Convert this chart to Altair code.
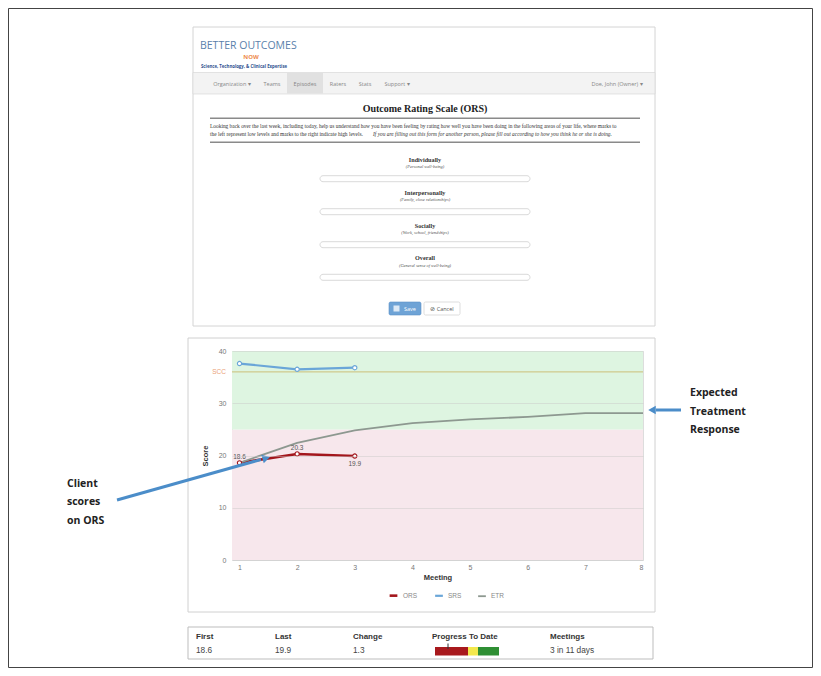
import altair as alt
import pandas as pd

# ---------------- chart values ----------------
meetings = [1, 2, 3, 4, 5, 6, 7, 8]
ors_scores = [18.6, 20.3, 19.9]
srs_scores = [37.6, 36.5, 36.8]
etr_scores = [18.6, 22.4, 24.8, 26.2, 26.9, 27.4, 28.1, 28.1]
scc_value = 36
series_names = ["ORS", "SRS", "ETR"]
series_colors = ["#a3161c", "#6aa6d8", "#8d9890"]
series_widths = [2.6, 1.8, 1.4]
band_names = ["Below", "Above"]
band_low = [0, 25]
band_high = [25, 40]
band_colors = ["#f7e7ec", "#def5e1"]
x_ticks = meetings
y_ticks = [0, 10, 20, 30, 40]
days_span = 11

# ---------------- texts of the figure ----------------
logo_text = "BETTER OUTCOMES"
logo_sub = "NOW"
logo_tag = "Science, Technology, & Clinical Expertise"
nav_items = ["Organization ▾", "Teams", "Episodes", "Raters", "Stats", "Support ▾"]
nav_user = "Doe, John (Owner) ▾"
form_title = "Outcome Rating Scale (ORS)"
form_intro_1 = ("Looking back over the last week, including today, help us understand how you have been feeling "
                "by rating how well you have been doing in the following areas of your life, where marks to")
form_intro_2a = "the left represent low levels and marks to the right indicate high levels."
form_intro_2b = ("If you are filling out this form for another person, please fill out according to how you "
                 "think he or she is doing.")
form_scales = ["Individually", "Interpersonally", "Socially", "Overall"]
form_hints = ["(Personal well-being)", "(Family, close relationships)",
              "(Work, school, friendships)", "(General sense of well-being)"]
button_labels = ["Save", "⊘ Cancel"]
table_headers = ["First", "Last", "Change", "Progress To Date", "Meetings"]
note_left = ["Client", "scores", "on ORS"]
note_right = ["Expected", "Treatment", "Response"]

# ---------------- layout (page pixels) ----------------
OX, OY = 232, 351          # plot origin on the page
W, H = 411, 209            # plot area
SVG_W, SVG_H = 805, 660


def PX(x):
    return x - OX


def PY(y):
    return y - OY


ONE = pd.DataFrame({"k": [0]})


def text(s, x, y, size=7, color="#333", align="left", weight="normal",
         font="Liberation Sans", style="normal", baseline="middle"):
    return alt.Chart(ONE).mark_text(
        text=s, fontSize=size, color=color, align=align, fontWeight=weight,
        font=font, fontStyle=style, baseline=baseline
    ).encode(x=alt.value(PX(x)), y=alt.value(PY(y)))


def box(x1, y1, x2, y2, fill=None, stroke=None, sw=1, r=0):
    kw = {}
    if fill is None:
        kw["fillOpacity"] = 0
        kw["fill"] = "white"
    else:
        kw["fill"] = fill
    if stroke is not None:
        kw["stroke"] = stroke
        kw["strokeWidth"] = sw
    if r:
        kw["cornerRadius"] = r
    return alt.Chart(ONE).mark_rect(**kw).encode(
        x=alt.value(PX(x1)), x2=alt.value(PX(x2)),
        y=alt.value(PY(y1)), y2=alt.value(PY(y2)))


def seg(x1, y1, x2, y2, color, sw=1):
    return alt.Chart(ONE).mark_rule(color=color, strokeWidth=sw).encode(
        x=alt.value(PX(x1)), x2=alt.value(PX(x2)),
        y=alt.value(PY(y1)), y2=alt.value(PY(y2)))


def head(x, y, shape, angle, color, size=70):
    return alt.Chart(ONE).mark_point(
        shape=shape, angle=angle, size=size, filled=True, color=color, opacity=1
    ).encode(x=alt.value(PX(x)), y=alt.value(PY(y)))


# ---------------- data tables ----------------
rows = []
for name, vals in zip(series_names, [ors_scores, srs_scores, etr_scores]):
    for m, v in zip(meetings, vals):
        rows.append({"meeting": m, "score": v, "series": name})
df_lines = pd.DataFrame(rows)
df_points = df_lines[df_lines["series"].isin(["ORS", "SRS"])]
df_ors = df_lines[df_lines["series"] == "ORS"]
df_bands = pd.DataFrame({"band": band_names, "score": band_low, "hi": band_high})
df_scc = pd.DataFrame({"score": [scc_value], "lab": ["SCC"]})

X_ENC = alt.X("meeting:Q", title="Meeting",
              scale=alt.Scale(domain=[0.87, 8], nice=False, zero=False),
              axis=alt.Axis(values=x_ticks, format="d", grid=False, ticks=False, domain=False,
                            labelFontSize=7, labelColor="#777", labelPadding=3,
                            titleFontSize=7.5, titleFontWeight="bold", titleColor="#333",
                            titlePadding=3, zindex=1))
Y_ENC = alt.Y("score:Q", title="Score",
              scale=alt.Scale(domain=[0, 40], nice=False),
              axis=alt.Axis(values=y_ticks, grid=True, gridColor="#c8c8c8", gridOpacity=0.45,
                            ticks=False, domain=False, labelFontSize=7, labelColor="#777",
                            labelPadding=6, titleFontSize=7.5, titleFontWeight="bold",
                            titleColor="#333", titlePadding=9, zindex=1))

stroke_scale = alt.Scale(domain=series_names, range=series_colors)

layers = []

# outer figure frame
layers.append(box(8.5, 8.5, 812.5, 667.5, stroke="#444", sw=1))

# ---------------- form screenshot ----------------
layers.append(box(193, 27, 655, 326, fill="white", stroke="#d4d4d4"))
layers.append(text(logo_text, 200, 46, size=10.5, color="#5a7fab", font="Open Sans"))
layers.append(text(logo_sub, 251, 57, size=6, color="#ee8a4c", weight="bold", align="center",
                   font="Open Sans"))
layers.append(text(logo_tag, 201, 66.5, size=4.3, color="#2d4f8f", weight="bold", font="Open Sans"))
layers.append(box(193, 72.5, 655, 94, fill="#f3f3f3", stroke="#d8d8d8", sw=0.7))
layers.append(box(287, 73, 323, 93.5, fill="#e1e1e1"))
nav_x = [232, 272, 305, 338, 365, 397]
for s, x in zip(nav_items, nav_x):
    layers.append(text(s, x, 84, size=5.5, color="#888", align="center", font="Open Sans"))
layers.append(text(nav_user, 617, 84, size=5.5, color="#888", align="center", font="Open Sans"))
layers.append(text(form_title, 425, 108.5, size=10, color="#222", weight="bold", align="center",
                   font="Liberation Serif"))
layers.append(seg(210, 118.3, 640, 118.3, "#8a8a8a", 1.6))
layers.append(seg(210, 142.3, 640, 142.3, "#8a8a8a", 1.6))
layers.append(text(form_intro_1, 210, 126, size=5.4, color="#333", font="Liberation Serif"))
layers.append(text(form_intro_2a, 210, 134, size=5.4, color="#333", font="Liberation Serif"))
layers.append(text(form_intro_2b, 373, 134, size=5.4, color="#333", font="Liberation Serif",
                   style="italic"))
field_y = [159.7, 192.7, 225.7, 258.3]
for s, hint, y in zip(form_scales, form_hints, field_y):
    layers.append(text(s, 425, y, size=6.2, color="#333", weight="bold", align="center",
                       font="Liberation Serif"))
    layers.append(text(hint, 425, y + 7.2, size=4.4, color="#555", style="italic", align="center",
                       font="Liberation Serif"))
    layers.append(box(320, y + 16, 530, y + 22, fill="white", stroke="#cfcfcf", sw=0.8, r=3))
layers.append(box(389, 302, 421, 315, fill="#6ea3d6", stroke="#5a91c8", sw=0.6, r=1.5))
layers.append(box(393.5, 305.5, 399.5, 311.5, fill="#dce9f6"))
layers.append(text(button_labels[0], 410, 308.5, size=5.5, color="white", align="center",
                   font="Open Sans"))
layers.append(box(424, 302, 460, 315, fill="white", stroke="#cfcfcf", sw=0.7, r=1.5))
layers.append(text(button_labels[1], 442, 308.5, size=5.5, color="#555", align="center",
                   font="Open Sans"))

# ---------------- chart panel ----------------
layers.append(box(188, 338, 655, 612, stroke="#d0d0d0", sw=1))

bands = alt.Chart(df_bands).mark_rect().encode(
    x=alt.value(0), x2=alt.value(W), y=Y_ENC, y2="hi:Q",
    fill=alt.Fill("band:N", scale=alt.Scale(domain=band_names, range=band_colors), legend=None))
layers.append(bands)

scc_rule = alt.Chart(df_scc).mark_rule(color="#cdbf78", strokeWidth=1).encode(
    y=Y_ENC, x=alt.value(0), x2=alt.value(W))
scc_lab = alt.Chart(df_scc).mark_text(fontSize=6.5, color="#eba37a", align="right",
                                      baseline="middle").encode(
    y=Y_ENC, x=alt.value(-6), text="lab:N")
layers += [scc_rule, scc_lab]

lines = alt.Chart(df_lines).mark_line().encode(
    x=X_ENC, y=Y_ENC,
    stroke=alt.Stroke("series:N", scale=stroke_scale, sort=series_names,
                      legend=alt.Legend(title=None, orient="none", direction="horizontal",
                                        legendX=PX(388), legendY=PY(590), symbolType="stroke",
                                        symbolSize=60, symbolStrokeWidth=1.5, labelFontSize=6.5,
                                        labelColor="#888", columnPadding=12, symbolOffset=0,
                                        padding=0)),
    strokeWidth=alt.StrokeWidth("series:N", scale=alt.Scale(domain=series_names,
                                                            range=series_widths), legend=None))
points = alt.Chart(df_points).mark_point(fill="white", fillOpacity=1, size=18, strokeWidth=1.1,
                                         opacity=1).encode(
    x=X_ENC, y=Y_ENC, stroke=alt.Stroke("series:N", scale=stroke_scale, sort=series_names))
lab_up = alt.Chart(df_ors).transform_filter("datum.meeting < 3").mark_text(
    fontSize=6.5, color="#555", dy=-6, baseline="middle").encode(
    x=X_ENC, y=Y_ENC, text=alt.Text("score:Q", format=".1f"))
lab_dn = alt.Chart(df_ors).transform_filter("datum.meeting == 3").mark_text(
    fontSize=6.5, color="#555", dy=8, baseline="middle").encode(
    x=X_ENC, y=Y_ENC, text=alt.Text("score:Q", format=".1f"))
layers += [lines, points, lab_up, lab_dn]

# ---------------- annotations ----------------
arrow_blue = "#4b8dc9"
layers.append(seg(117, 500, 261, 459.5, arrow_blue, 3))
layers.append(head(265, 458.3, "triangle", 74, arrow_blue, 80))
layers.append(seg(656, 410, 681, 410, arrow_blue, 3))
layers.append(head(652, 410, "triangle-left", 0, arrow_blue, 75))
for s, y in zip(note_left, [483.5, 502, 521]):
    layers.append(text(s, 67, y, size=10.5, color="#222", weight="bold", font="Open Sans"))
for s, y in zip(note_right, [392.7, 411.5, 429.5]):
    layers.append(text(s, 690, y, size=10.5, color="#222", weight="bold", font="Open Sans"))

# ---------------- summary table ----------------
first, last = ors_scores[0], ors_scores[-1]
table_values = [f"{first:.1f}", f"{last:.1f}", f"{last - first:.1f}", "",
                f"{len(ors_scores)} in {days_span} days"]
layers.append(box(188, 627, 653, 659, stroke="#bdbdbd", sw=1))
col_x = [196, 275, 353, 432, 550]
for h, v, x in zip(table_headers, table_values, col_x):
    layers.append(text(h, x, 636.8, size=8, color="#333", weight="bold"))
    if v:
        layers.append(text(v, x, 650.8, size=8.3, color="#444"))
layers.append(box(435, 647, 468, 655.5, fill="#a8191d"))
layers.append(box(468, 647, 478, 655.5, fill="#f3e84c"))
layers.append(box(478, 647, 499, 655.5, fill="#2f8f34"))
layers.append(seg(448, 643.5, 448, 649, "#333", 1))

chart = alt.layer(*layers).properties(
    width=W, height=H,
    autosize=alt.AutoSizeParams(type="none"),
    padding={"left": OX - 8, "top": OY - 8,
             "right": SVG_W - (OX - 8) - W, "bottom": SVG_H - (OY - 8) - H},
).configure_view(stroke=None).configure(background="white")

chart.save("out.html", embed_options={"renderer": "svg", "actions": False})
